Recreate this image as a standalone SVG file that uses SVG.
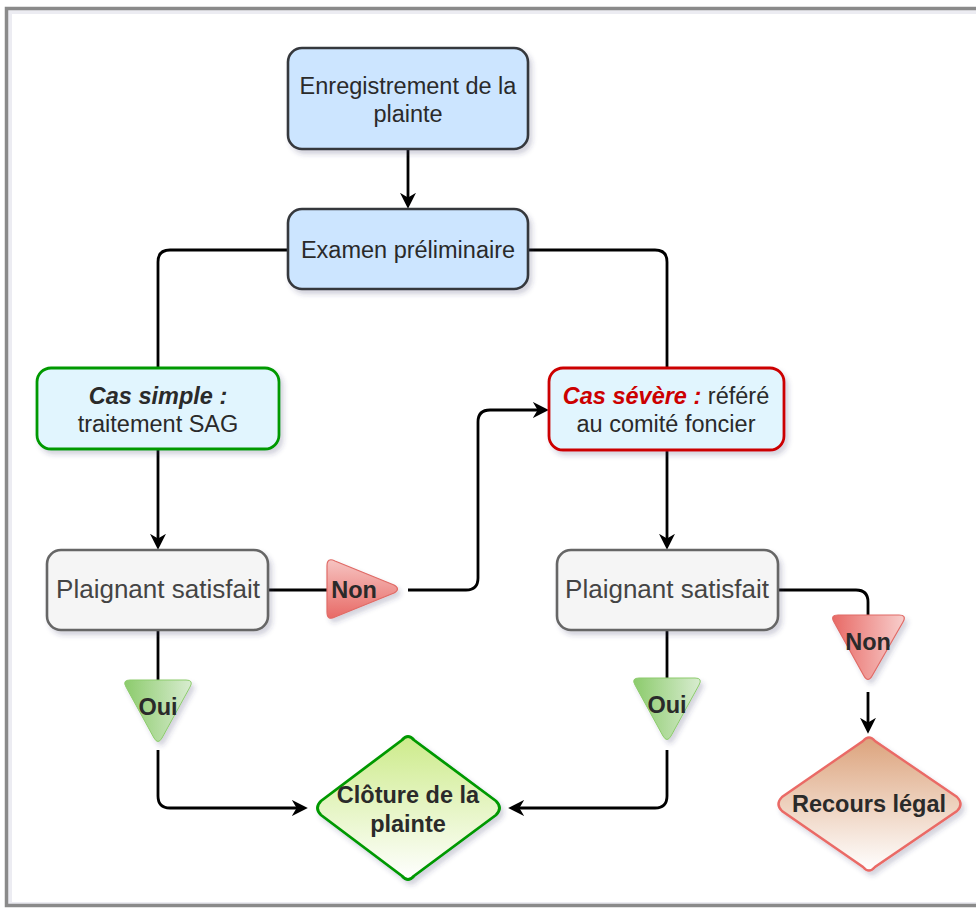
<svg xmlns="http://www.w3.org/2000/svg" width="976" height="908" viewBox="0 0 976 908">
<style>
.t{font-family:"Liberation Sans",Arial,sans-serif;font-size:23.5px;fill:#2a2a2a;text-anchor:middle}
.b{font-weight:bold}
.bi{font-weight:bold;font-style:italic}
.grey{fill:#444;font-size:26px}
.conn{fill:none;stroke:#000;stroke-width:2.8}
.blue{fill:#cce5ff;stroke:#36393d;stroke-width:2.6}
.plain{fill:#f5f5f5;stroke:#666;stroke-width:2.6}
</style>
<defs>
<filter id="sh" x="-20%" y="-20%" width="150%" height="150%">
<feDropShadow dx="3" dy="4" stdDeviation="2.5" flood-color="#3a3a66" flood-opacity="0.22"/>
</filter>
<marker id="arr" viewBox="0 0 10 10" markerWidth="16" markerHeight="16" markerUnits="userSpaceOnUse" refX="7" refY="5" orient="auto">
<path d="M0,0 L10,5 L0,10 L3,5 Z" fill="#000"/>
</marker>
<linearGradient id="gGreenD" x1="0" y1="0" x2="0" y2="1"><stop offset="0" stop-color="#cdeb8b"/><stop offset="1" stop-color="#ffffff"/></linearGradient>
<linearGradient id="gRedD" x1="0" y1="0" x2="0" y2="1"><stop offset="0" stop-color="#dca37c"/><stop offset="1" stop-color="#ffffff"/></linearGradient>
<linearGradient id="gOui" x1="0" y1="0" x2="1" y2="0"><stop offset="0" stop-color="#8ccb6c"/><stop offset="1" stop-color="#d8ecd0"/></linearGradient>
<linearGradient id="gNonH" x1="0" y1="0" x2="0" y2="1"><stop offset="0" stop-color="#f6c4c2"/><stop offset="1" stop-color="#e86a66"/></linearGradient>
<linearGradient id="gNonV" x1="0" y1="0" x2="1" y2="0"><stop offset="0" stop-color="#e86a66"/><stop offset="1" stop-color="#f8cecc"/></linearGradient>
</defs>
<rect x="0" y="0" width="976" height="908" fill="#fff"/>
<rect x="10" y="12" width="970" height="892" fill="none" stroke="#ececf2" stroke-width="4"/>
<rect x="6.5" y="8.5" width="980" height="897" fill="none" stroke="#8a8a8a" stroke-width="3.5"/>

<g id="connectors">
<path class="conn" d="M408,150 L408,204" marker-end="url(#arr)"/>
<path class="conn" d="M288,250 L170,250 Q158,250 158,262 L158,368"/>
<path class="conn" d="M528,250 L655,250 Q667,250 667,262 L667,368"/>
<path class="conn" d="M158,449 L158,545" marker-end="url(#arr)"/>
<path class="conn" d="M667,450 L667,545" marker-end="url(#arr)"/>
<path class="conn" d="M268,590 L327,590"/>
<path class="conn" d="M408,590 L466,590 Q478,590 478,578 L478,422 Q478,410 490,410 L544,410" marker-end="url(#arr)"/>
<path class="conn" d="M778,590 L856,590 Q868,590 868,602 L868,615"/>
<path class="conn" d="M868,692 L868,729" marker-end="url(#arr)"/>
<path class="conn" d="M158,630 L158,680"/>
<path class="conn" d="M158,750 L158,796 Q158,808 170,808 L303,808" marker-end="url(#arr)"/>
<path class="conn" d="M667,630 L667,678"/>
<path class="conn" d="M667,750 L667,796 Q667,808 655,808 L513,808" marker-end="url(#arr)"/>
</g>

<g id="enregistrement">
<rect class="blue" x="288" y="48" width="240" height="101" rx="14" filter="url(#sh)"/>
<text class="t" x="408" y="94">Enregistrement de la</text>
<text class="t" x="408" y="122">plainte</text>
</g>

<g id="examen">
<rect class="blue" x="288" y="209" width="240" height="80" rx="14" filter="url(#sh)"/>
<text class="t" x="408" y="258">Examen préliminaire</text>
</g>

<g id="cas-simple">
<rect x="37" y="368" width="242" height="81" rx="14" fill="#e1f5fe" stroke="#009900" stroke-width="2.8" filter="url(#sh)"/>
<text class="t" x="158" y="404"><tspan class="bi">Cas simple :</tspan></text>
<text class="t" x="158" y="432">traitement SAG</text>
</g>

<g id="cas-severe">
<rect x="549" y="368" width="235" height="82" rx="14" fill="#e1f5fe" stroke="#cc0000" stroke-width="2.8" filter="url(#sh)"/>
<text class="t" x="666" y="404"><tspan class="bi" fill="#cc0000">Cas sévère :</tspan> référé</text>
<text class="t" x="666" y="432">au comité foncier</text>
</g>

<g id="plaignant-gauche">
<rect class="plain" x="47" y="550" width="221" height="80" rx="14" filter="url(#sh)"/>
<text class="t grey" x="158" y="598">Plaignant satisfait</text>
</g>

<g id="plaignant-droite">
<rect class="plain" x="557" y="550" width="221" height="80" rx="14" filter="url(#sh)"/>
<text class="t grey" x="667" y="598">Plaignant satisfait</text>
</g>

<g id="non-horizontal">
<path d="M327,566 Q327,557 335,561 L394,585 Q401,589 394,593 L335,617 Q327,621 327,612 Z" fill="url(#gNonH)" stroke="#e06b66" stroke-width="1.2" filter="url(#sh)"/>
<text class="t b" x="354" y="598" fill="#1a1a1a">Non</text>
</g>

<g id="non-vertical">
<path d="M838,615 L899,615 Q907,615 903,622 L872,676 Q868,683 864,676 L834,622 Q830,615 838,615 Z" fill="url(#gNonV)" stroke="#e06b66" stroke-width="1.2" filter="url(#sh)"/>
<text class="t b" x="868" y="650" fill="#1a1a1a">Non</text>
</g>

<g id="oui-gauche">
<path d="M130,680 L186,680 Q194,680 190,687 L162,738 Q158,745 154,738 L126,687 Q122,680 130,680 Z" fill="url(#gOui)" stroke="#8ccb6c" stroke-width="1" filter="url(#sh)"/>
<text class="t b" x="158" y="715" fill="#1a1a1a">Oui</text>
</g>

<g id="oui-droite">
<path d="M639,678 L695,678 Q703,678 699,685 L671,736 Q667,743 663,736 L635,685 Q631,678 639,678 Z" fill="url(#gOui)" stroke="#8ccb6c" stroke-width="1" filter="url(#sh)"/>
<text class="t b" x="667" y="713" fill="#1a1a1a">Oui</text>
</g>

<g id="cloture">
<path d="M402,740 Q408,733 414,740 L496,801 Q503,808 496,815 L414,876 Q408,883 402,876 L321,815 Q314,808 321,801 Z" fill="url(#gGreenD)" stroke="#009900" stroke-width="2.8" filter="url(#sh)"/>
<text class="t b" x="408" y="803" fill="#2a2a2a">Clôture de la</text>
<text class="t b" x="408" y="832" fill="#2a2a2a">plainte</text>
</g>

<g id="recours">
<path d="M863,741 Q869,734 875,741 L957,797 Q964,804 957,811 L875,867 Q869,874 863,867 L782,811 Q775,804 782,797 Z" fill="url(#gRedD)" stroke="#ea6b66" stroke-width="2.4" filter="url(#sh)"/>
<text class="t b" x="869" y="812" fill="#cc0000">Recours légal</text>
</g>
</svg>
